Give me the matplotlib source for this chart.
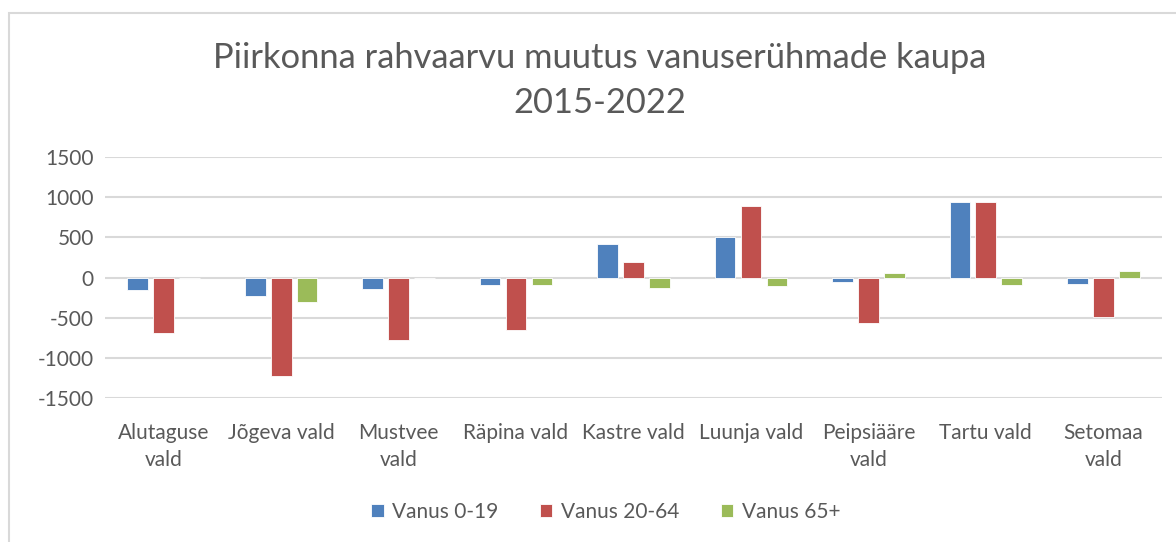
import numpy as np
import matplotlib.pyplot as plt
from matplotlib.patches import Rectangle

# Population change 2015-2022 by age group
regions = ["Alutaguse\nvald", "Jõgeva vald", "Mustvee\nvald", "Räpina vald",
           "Kastre vald", "Luunja vald", "Peipsiääre\nvald", "Tartu vald",
           "Setomaa\nvald"]
age_0_19 = [-150, -225, -140, -90, 415, 500, -60, 940, -80]
age_20_64 = [-695, -1230, -775, -650, 195, 890, -570, 935, -490]
age_65 = [0, -300, 0, -90, -130, -110, 60, -95, 85]

series = ["Vanus 0-19", "Vanus 20-64", "Vanus 65+"]
colors = ["#4F81BD", "#C0504D", "#9BBB59"]

plt.rcParams['font.family'] = ['Lato', 'DejaVu Sans']
plt.rcParams['axes.unicode_minus'] = False
txt = "#595959"

fig = plt.figure(figsize=(11.76, 5.42), dpi=100)
fig.patches.append(Rectangle((9 / 1176, -0.1), 1.2, 1 - 13 / 542 + 0.1,
                             transform=fig.transFigure, fill=False,
                             edgecolor="#D9D9D9", linewidth=1.5))

ax = fig.add_axes([105 / 1176, 1 - 398 / 542, 1057 / 1176, 241 / 542])

x = np.arange(len(regions))
w = 0.176
step = 0.221
for i, (vals, name, c) in enumerate(zip([age_0_19, age_20_64, age_65], series, colors)):
    ax.bar(x + (i - 1) * step, vals, width=w, color=c, edgecolor="white",
           linewidth=0.6, label=name, zorder=3)

ax.set_xlim(-0.5, len(regions) - 0.5)
ax.set_ylim(-1500, 1500)
ax.set_yticks(np.arange(-1500, 1501, 500))
ax.yaxis.grid(True, color="#D9D9D9", linewidth=1.5, zorder=0)
ax.set_axisbelow(True)
for s in ax.spines.values():
    s.set_visible(False)
ax.tick_params(length=0, labelsize=15, colors=txt, pad=8)
ax.tick_params(axis='x', pad=18)
ax.set_xticks(x)
ax.set_xticklabels(regions, linespacing=1.45)

fig.text(0.51, 1 - 58 / 542, "Piirkonna rahvaarvu muutus vanuserühmade kaupa",
         ha='center', va='center', fontsize=24.8, color=txt)
fig.text(0.51, 1 - 103 / 542, "2015-2022",
         ha='center', va='center', fontsize=24.8, color=txt)

fig.legend(loc='center', bbox_to_anchor=(0.515, 1 - 512 / 542), ncol=3,
           frameon=False, fontsize=15, labelcolor=txt, handlelength=0.6,
           handleheight=0.6, handletextpad=0.4, columnspacing=2.0)

fig.savefig("out.png", dpi=100)
